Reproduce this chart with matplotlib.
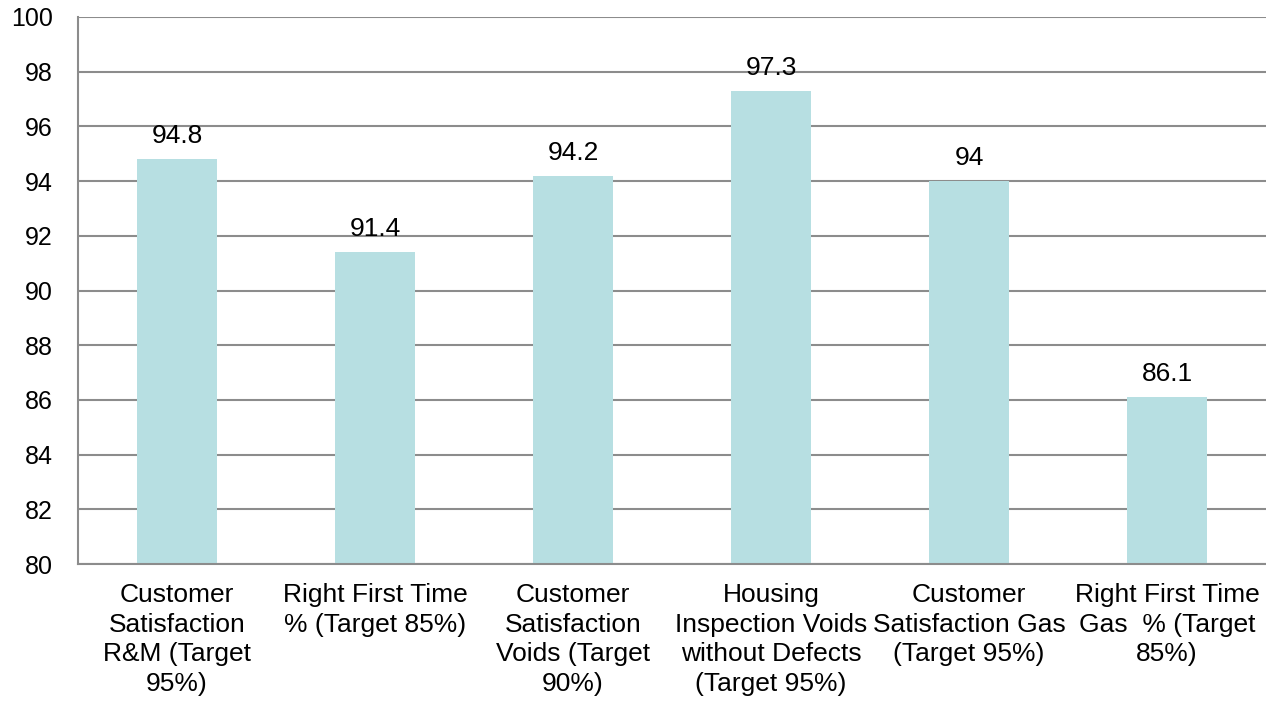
import matplotlib
matplotlib.use("Agg")
import matplotlib.pyplot as plt

categories = [
    "Customer\nSatisfaction\nR&M (Target\n95%)",
    "Right First Time\n% (Target 85%)",
    "Customer\nSatisfaction\nVoids (Target\n90%)",
    "Housing\nInspection Voids\nwithout Defects\n(Target 95%)",
    "Customer\nSatisfaction Gas\n(Target 95%)",
    "Right First Time\nGas  % (Target\n85%)",
]
values = [94.8, 91.4, 94.2, 97.3, 94, 86.1]
value_labels = ["94.8", "91.4", "94.2", "97.3", "94", "86.1"]
yticks = [80, 82, 84, 86, 88, 90, 92, 94, 96, 98, 100]

plt.rcParams['font.family'] = ['Liberation Sans', 'DejaVu Sans']

fig = plt.figure(figsize=(12.66, 7.03), dpi=100)
ax = fig.add_axes([78/1266, 1 - 564/703, (1266-78)/1266, (564-17)/703])

x = list(range(len(categories)))
ax.bar(x, values, width=0.4, color="#B7DFE2", zorder=2)
ax.set_xlim(-0.5, len(categories) - 0.5)
ax.set_ylim(80, 100)
ax.set_yticks(yticks)
ax.set_yticklabels([str(t) for t in yticks], fontsize=18)
ax.set_xticks(x)
ax.set_xticklabels(categories, fontsize=19, linespacing=1.29)
ax.tick_params(axis='both', length=0)
ax.tick_params(axis='y', pad=18)
ax.tick_params(axis='x', pad=14)

ax.yaxis.grid(True, color="#8C8C8C", linewidth=1.5, zorder=1)
ax.set_axisbelow(True)
for s in ["top", "right"]:
    ax.spines[s].set_visible(False)
for s in ["left", "bottom"]:
    ax.spines[s].set_color("#8C8C8C")
    ax.spines[s].set_linewidth(1.5)

for xi, v, lab in zip(x, values, value_labels):
    ax.annotate(lab, (xi, v), xytext=(0, 8), textcoords="offset points",
                ha="center", va="bottom", fontsize=19)

fig.savefig("out.png", dpi=100)
